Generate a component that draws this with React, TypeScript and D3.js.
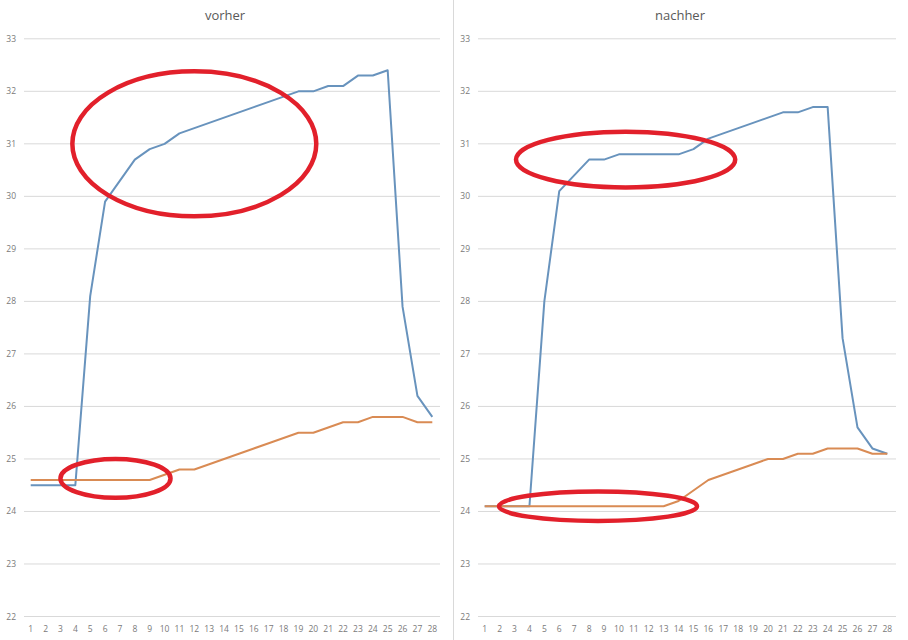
import React from "react";
import * as d3 from "d3";

const categories = Array.from({ length: 28 }, (_, i) => i + 1);
const yTicks = [22, 23, 24, 25, 26, 27, 28, 29, 30, 31, 32, 33];

const vorherBlue = [24.5, 24.5, 24.5, 24.5, 28.1, 29.9, 30.3, 30.7, 30.9, 31.0, 31.2, 31.3, 31.4, 31.5, 31.6, 31.7, 31.8, 31.9, 32.0, 32.0, 32.1, 32.1, 32.3, 32.3, 32.4, 27.9, 26.2, 25.8];
const vorherOrange = [24.6, 24.6, 24.6, 24.6, 24.6, 24.6, 24.6, 24.6, 24.6, 24.7, 24.8, 24.8, 24.9, 25.0, 25.1, 25.2, 25.3, 25.4, 25.5, 25.5, 25.6, 25.7, 25.7, 25.8, 25.8, 25.8, 25.7, 25.7];
const nachherBlue = [24.1, 24.1, 24.1, 24.1, 28.0, 30.1, 30.4, 30.7, 30.7, 30.8, 30.8, 30.8, 30.8, 30.8, 30.9, 31.1, 31.2, 31.3, 31.4, 31.5, 31.6, 31.6, 31.7, 31.7, 27.3, 25.6, 25.2, 25.1];
const nachherOrange = [24.1, 24.1, 24.1, 24.1, 24.1, 24.1, 24.1, 24.1, 24.1, 24.1, 24.1, 24.1, 24.1, 24.2, 24.4, 24.6, 24.7, 24.8, 24.9, 25.0, 25.0, 25.1, 25.1, 25.2, 25.2, 25.2, 25.1, 25.1];

// annotation ellipses: [cx, cy, rx, ry] in data units (category, value)
const vorherCircles = [
  { cx: 12.0, cy: 31.0, rxCat: 8.2, ryVal: 1.38 },
  { cx: 6.7, cy: 24.63, rxCat: 3.7, ryVal: 0.37 },
];
const nachherCircles = [
  { cx: 10.45, cy: 30.7, rxCat: 7.35, ryVal: 0.53 },
  { cx: 8.6, cy: 24.1, rxCat: 6.64, ryVal: 0.28 },
];

const BLUE = "#6893bd";
const ORANGE = "#d98b54";
const RED = "#e2202b";

type PanelProps = {
  title: string;
  blue: number[];
  orange: number[];
  circles: { cx: number; cy: number; rxCat: number; ryVal: number }[];
  gridX0: number;
  gridX1: number;
  x1: number;
  x28: number;
  labelX: number;
  titleX: number;
};

function Panel(p: PanelProps) {
  const x = d3.scaleLinear().domain([1, 28]).range([p.x1, p.x28]);
  const y = d3.scaleLinear().domain([22, 33]).range([616.5, 38.8]);
  const line = d3
    .line<number>()
    .x((_, i) => x(categories[i]))
    .y((d) => y(d));
  const stepX = x(2) - x(1);
  const stepY = y(22) - y(23);
  return (
    <g>
      <text x={p.titleX} y={20} textAnchor="middle" fontSize={13} fill="#595959" fontFamily="'Open Sans', sans-serif">
        {p.title}
      </text>
      {yTicks.map((t) => (
        <g key={t}>
          <line x1={p.gridX0} x2={p.gridX1} y1={y(t)} y2={y(t)} stroke="#d9d9d9" strokeWidth={1} />
          <text x={p.labelX} y={y(t) + 3} textAnchor="end" fontSize={8.5} fill="#7a7a7a" fontFamily="'Open Sans', sans-serif">
            {t}
          </text>
        </g>
      ))}
      {categories.map((c) => (
        <text key={c} x={x(c)} y={632} textAnchor="middle" fontSize={8.5} fill="#7a7a7a" fontFamily="'Open Sans', sans-serif">
          {c}
        </text>
      ))}
      <path d={line(p.blue) || ""} fill="none" stroke={BLUE} strokeWidth={2} strokeLinejoin="round" />
      <path d={line(p.orange) || ""} fill="none" stroke={ORANGE} strokeWidth={2} strokeLinejoin="round" />
      {p.circles.map((c, i) => (
        <ellipse
          key={i}
          cx={x(c.cx)}
          cy={y(c.cy)}
          rx={c.rxCat * stepX}
          ry={c.ryVal * stepY}
          fill="none"
          stroke={RED}
          strokeWidth={4.5}
        />
      ))}
    </g>
  );
}

export default function App() {
  return (
    <svg width={908} height={640} style={{ position: "absolute", left: 0, top: 0, background: "#fff" }}>
      <rect x={0} y={0} width={908} height={640} fill="#fff" />
      <Panel
        title="vorher"
        blue={vorherBlue}
        orange={vorherOrange}
        circles={vorherCircles}
        gridX0={24}
        gridX1={440}
        x1={30.7}
        x28={432.3}
        labelX={16}
        titleX={225}
      />
      <line x1={453.5} x2={453.5} y1={0} y2={640} stroke="#d9d9d9" strokeWidth={1} />
      <Panel
        title="nachher"
        blue={nachherBlue}
        orange={nachherOrange}
        circles={nachherCircles}
        gridX0={478}
        gridX1={896}
        x1={484.7}
        x28={887.3}
        labelX={470}
        titleX={680}
      />
    </svg>
  );
}
